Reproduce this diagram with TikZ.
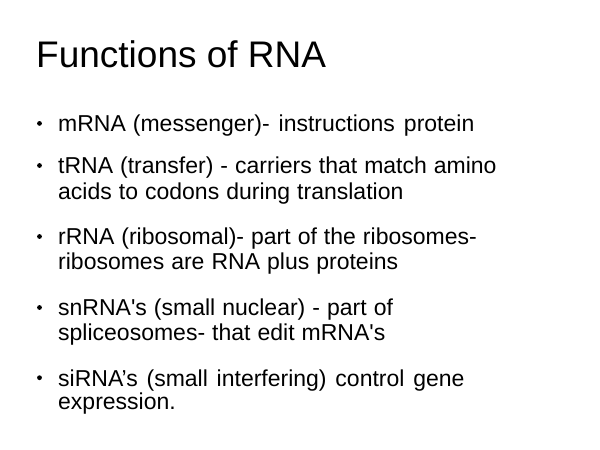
\documentclass[tikz,border=0pt]{standalone}
\usepackage{fontspec}
\setmainfont{Liberation Sans}
\newfontfamily\bodyfont{Liberation Sans}[WordSpace=1.1]
\begin{document}
\begin{tikzpicture}[x=1pt,y=-1pt,
  titletext/.style={anchor=base west,inner sep=0pt,font=\fontsize{37}{40}\selectfont},
  linetext/.style={anchor=base west,inner sep=0pt,font=\bodyfont\fontsize{23}{25}\selectfont},
  bulletdot/.style={circle,fill=black,inner sep=0pt,minimum size=4.8pt}]
\useasboundingbox[fill=white] (0,0) rectangle (600,450);
\node[titletext] (title) at (36,67.7) {Functions of RNA};
% item 1
\node[bulletdot] (b1) at (39.5,123.4) {};
\node[linetext] (l1) at (58,131.7) {mRNA (messenger)-\hspace{9pt}instructions\hspace{9pt}protein};
% item 2
\node[bulletdot] (b2) at (39.5,165.5) {};
\node[linetext] (l2a) at (58,173.8) {tRNA (transfer) - carriers that match amino};
\node[linetext] (l2b) at (58,199) {acids to codons during translation};
% item 3
\node[bulletdot] (b3) at (39.5,236.5) {};
\node[linetext] (l3a) at (58,244.8) {rRNA (ribosomal)- part of the ribosomes-};
\node[linetext] (l3b) at (58,269.5) {ribosomes are RNA plus proteins};
% item 4
\node[bulletdot] (b4) at (39.5,307.5) {};
\node[linetext] (l4a) at (58,315.8) {snRNA's (small nuclear) - part of};
\node[linetext] (l4b) at (58,340.2) {spliceosomes- that edit mRNA's};
% item 5
\node[bulletdot] (b5) at (39.5,377.7) {};
\node[linetext] (l5a) at (58,386) {\spaceskip=8.8pt siRNA’s (small interfering) control gene};
\node[linetext] (l5b) at (58,409.5) {expression.};
\end{tikzpicture}
\end{document}
